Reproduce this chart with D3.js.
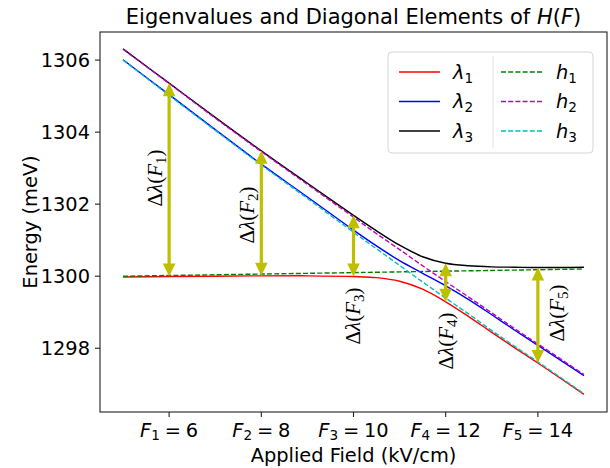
<!DOCTYPE html>
<html>
<head>
<meta charset="utf-8">
<script src="https://cdn.jsdelivr.net/npm/d3@7"></script>
<style>
  body { margin: 0; background: #fff; }
  text { font-family: "DejaVu Sans", sans-serif; fill: #000; }
  .serif { font-family: "Liberation Serif", "DejaVu Serif", serif; }
</style>
</head>
<body>
<div id="chart"></div>
<script>
// field values (kV/cm) where the curves were read
var field = [5, 6, 7, 8, 9, 10, 10.5, 11, 11.5, 12, 12.5, 13, 13.5, 14, 15];

// eigenvalues (meV)
var lambda1 = [1299.98, 1299.99, 1300.00, 1300.01, 1300.01, 1299.99, 1299.96, 1299.86, 1299.64, 1299.29, 1298.88, 1298.44, 1298.01, 1297.59, 1296.72];
var lambda2 = [1306.01, 1305.04, 1304.07, 1303.11, 1302.20, 1301.28, 1300.84, 1300.43, 1300.08, 1299.73, 1299.35, 1298.93, 1298.50, 1298.08, 1297.24];
var lambda3 = [1306.31, 1305.36, 1304.41, 1303.48, 1302.58, 1301.69, 1301.26, 1300.86, 1300.54, 1300.36, 1300.29, 1300.26, 1300.25, 1300.24, 1300.25];

// diagonal elements (meV)
var h1 = [1300.00, 1300.02, 1300.04, 1300.06, 1300.08, 1300.10, 1300.11, 1300.12, 1300.13, 1300.14, 1300.15, 1300.16, 1300.17, 1300.18, 1300.20];
var h2 = [1306.30, 1305.35, 1304.39, 1303.46, 1302.55, 1301.64, 1301.18, 1300.74, 1300.29, 1299.85, 1299.42, 1298.98, 1298.54, 1298.12, 1297.27];
var h3 = [1306.00, 1305.02, 1304.05, 1303.09, 1302.16, 1301.22, 1300.76, 1300.30, 1299.84, 1299.39, 1298.95, 1298.49, 1298.05, 1297.62, 1296.74];

// gap arrows: field, lower and upper eigenvalue
var gapField = [6, 8, 10, 12, 14];
var gapLow = [1299.99, 1300.01, 1299.99, 1299.29, 1297.59];
var gapHigh = [1305.36, 1303.48, 1301.69, 1300.36, 1300.24];

var xTicks = [6, 8, 10, 12, 14];
var yTicks = [1298, 1300, 1302, 1304, 1306];

var w = 610, h = 468;
var margin = {left: 100, right: 3, top: 32, bottom: 56};

var svg = d3.select('#chart').append('svg')
    .attr('width', w)
    .attr('height', h);

var x = d3.scaleLinear().domain([4.5, 15.5]).range([margin.left, w - margin.right]);
var y = d3.scaleLinear().domain([1296.23, 1306.78]).range([h - margin.bottom, margin.top]);

// clip for the plot area
svg.append('defs').append('clipPath').attr('id', 'clip')
    .append('rect')
    .attr('x', x.range()[0]).attr('y', margin.top)
    .attr('width', x.range()[1] - x.range()[0])
    .attr('height', h - margin.bottom - margin.top);

var plot = svg.append('g').attr('clip-path', 'url(#clip)');

var series = [
    {vals: lambda1, color: '#ff0000', dash: null},
    {vals: lambda2, color: '#0000ff', dash: null},
    {vals: lambda3, color: '#000000', dash: null},
    {vals: h1, color: '#008000', dash: '5,2.2'},
    {vals: h2, color: '#bf00bf', dash: '5,2.2'},
    {vals: h3, color: '#00bfbf', dash: '5,2.2'}
];

var line = d3.line()
    .x(function (d) { return x(d[0]); })
    .y(function (d) { return y(d[1]); })
    .curve(d3.curveCatmullRom.alpha(0.5));

series.forEach(function (s) {
    plot.append('path')
        .datum(field.map(function (f, i) { return [f, s.vals[i]]; }))
        .attr('fill', 'none')
        .attr('stroke', s.color)
        .attr('stroke-width', 1.4)
        .attr('stroke-dasharray', s.dash)
        .attr('d', line);
});

// double headed arrows for the gaps
var arrowColor = '#bfbf00';
var headLen = 13, headHalf = 6.3;
var arrows = plot.append('g');
gapField.forEach(function (f, i) {
    var ax = x(f), y0 = y(gapLow[i]), y1 = y(gapHigh[i]);
    arrows.append('line')
        .attr('x1', ax).attr('x2', ax)
        .attr('y1', y0 - headLen + 1).attr('y2', y1 + headLen - 1)
        .attr('stroke', arrowColor)
        .attr('stroke-width', 3.2);
    arrows.append('path')
        .attr('d', 'M' + ax + ',' + y0 + 'L' + (ax - headHalf) + ',' + (y0 - headLen) + 'L' + (ax + headHalf) + ',' + (y0 - headLen) + 'Z')
        .attr('fill', arrowColor);
    arrows.append('path')
        .attr('d', 'M' + ax + ',' + y1 + 'L' + (ax - headHalf) + ',' + (y1 + headLen) + 'L' + (ax + headHalf) + ',' + (y1 + headLen) + 'Z')
        .attr('fill', arrowColor);
});

// gap labels (rotated)
var gapLabelPos = [[155, 178], [247, 215], [353, 316], [446, 341], [557, 313]];
gapField.forEach(function (f, i) {
    var t = svg.append('text')
        .attr('class', 'serif')
        .attr('transform', 'translate(' + gapLabelPos[i][0] + ',' + gapLabelPos[i][1] + ') rotate(-90)')
        .attr('text-anchor', 'middle')
        .attr('dy', '0.35em')
        .style('font-size', '21px');
    t.append('tspan').text('\u0394');
    t.append('tspan').style('font-style', 'italic').text('\u03bb');
    t.append('tspan').text('(');
    t.append('tspan').style('font-style', 'italic').text('F');
    t.append('tspan').attr('dy', 4).style('font-size', '15px').text(i + 1);
    t.append('tspan').attr('dy', -4).text(')');
});

// frame
svg.append('rect')
    .attr('x', x.range()[0]).attr('y', margin.top)
    .attr('width', x.range()[1] - x.range()[0])
    .attr('height', h - margin.bottom - margin.top)
    .attr('fill', 'none')
    .attr('stroke', '#222')
    .attr('stroke-width', 1.1);

// y axis
var yAxis = svg.append('g');
yTicks.forEach(function (v) {
    yAxis.append('line')
        .attr('x1', margin.left - 5).attr('x2', margin.left)
        .attr('y1', y(v)).attr('y2', y(v))
        .attr('stroke', '#222').attr('stroke-width', 1.1);
    yAxis.append('text')
        .attr('x', margin.left - 10).attr('y', y(v))
        .attr('text-anchor', 'end')
        .attr('dy', '0.35em')
        .style('font-size', '19.4px')
        .text(v);
});

// x axis
var xAxis = svg.append('g');
var xBase = h - margin.bottom;
xTicks.forEach(function (v, i) {
    xAxis.append('line')
        .attr('x1', x(v)).attr('x2', x(v))
        .attr('y1', xBase).attr('y2', xBase + 5)
        .attr('stroke', '#222').attr('stroke-width', 1.1);
    var t = xAxis.append('text')
        .attr('x', x(v)).attr('y', xBase + 25)
        .attr('text-anchor', 'middle')
        .style('font-size', '19.4px');
    t.append('tspan').style('font-style', 'italic').text('F');
    t.append('tspan').attr('dy', 3).style('font-size', '13.6px').text(i + 1);
    t.append('tspan').attr('dy', -3).text('\u2005=\u2005' + v);
});

svg.append('text')
    .attr('x', (x.range()[0] + x.range()[1]) / 2).attr('y', 462)
    .attr('text-anchor', 'middle')
    .style('font-size', '19.4px')
    .text('Applied Field (kV/cm)');

svg.append('text')
    .attr('transform', 'translate(30,' + ((margin.top + h - margin.bottom) / 2) + ') rotate(-90)')
    .attr('text-anchor', 'middle')
    .attr('dy', '0.35em')
    .style('font-size', '19.4px')
    .text('Energy (meV)');

// title
var title = svg.append('text')
    .attr('x', (x.range()[0] + x.range()[1]) / 2).attr('y', 24)
    .attr('text-anchor', 'middle')
    .style('font-size', '21px');
title.append('tspan').text('Eigenvalues and Diagonal Elements of ');
title.append('tspan').style('font-style', 'italic').text('H');
title.append('tspan').text('(');
title.append('tspan').style('font-style', 'italic').text('F');
title.append('tspan').text(')');

// legend
var legend = svg.append('g');
legend.append('rect')
    .attr('x', 388).attr('y', 52)
    .attr('width', 205).attr('height', 101)
    .attr('rx', 4)
    .attr('fill', '#fff').attr('fill-opacity', 0.8)
    .attr('stroke', '#d6d6d6').attr('stroke-width', 1);
legend.append('line')
    .attr('x1', 493).attr('x2', 493)
    .attr('y1', 56).attr('y2', 148)
    .attr('stroke', '#e2e2e2').attr('stroke-width', 1);

var legendNames = ['\u03bb', '\u03bb', '\u03bb', 'h', 'h', 'h'];
var rowY = [72, 101.5, 131];
series.forEach(function (s, i) {
    var col = Math.floor(i / 3), row = i % 3;
    var lx = col === 0 ? 399 : 501;
    legend.append('line')
        .attr('x1', lx).attr('x2', lx + 41)
        .attr('y1', rowY[row]).attr('y2', rowY[row])
        .attr('stroke', s.color)
        .attr('stroke-width', 1.4)
        .attr('stroke-dasharray', s.dash);
    var t = legend.append('text')
        .attr('x', col === 0 ? 453 : 556)
        .attr('y', rowY[row])
        .attr('dy', '0.35em')
        .style('font-size', '19.4px');
    t.append('tspan').style('font-style', 'italic').text(legendNames[i]);
    t.append('tspan').attr('dy', 4).style('font-size', '13.6px').text(row + 1);
});
</script>
</body>
</html>
